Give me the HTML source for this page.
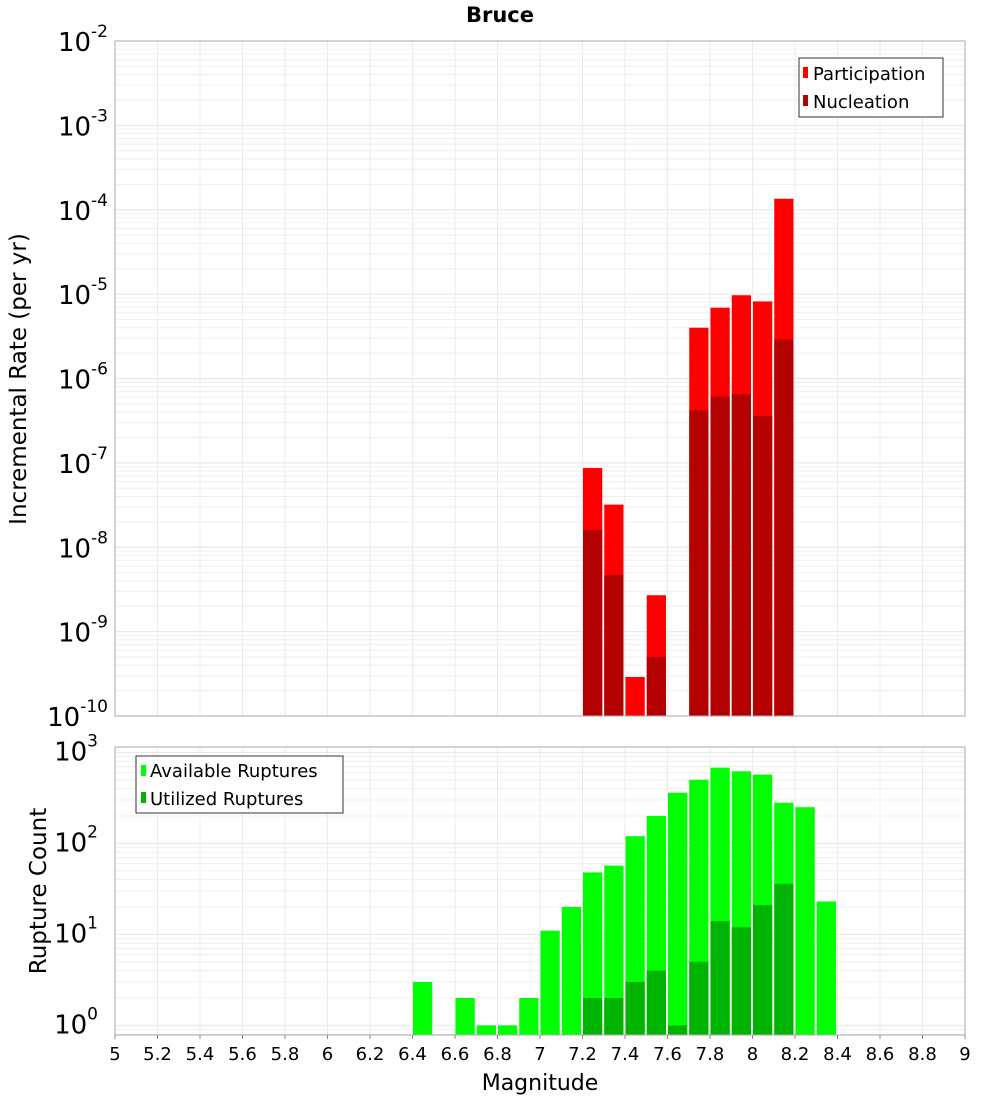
<!DOCTYPE html>
<html><head><meta charset="utf-8"><style>
body{margin:0;background:#fff;}
svg{display:block;font-family:"DejaVu Sans","Liberation Sans",sans-serif;}
</style></head><body>
<svg id="chart" width="1000" height="1100" xmlns="http://www.w3.org/2000/svg">
<text x="500" y="22" text-anchor="middle" font-size="21" font-weight="bold">Bruce</text>
<g id="top"></g>
<g id="bot"></g>
<text transform="translate(26,379) rotate(-90)" text-anchor="middle" font-size="23">Incremental Rate (per yr)</text>
<text transform="translate(46,891) rotate(-90)" text-anchor="middle" font-size="23">Rupture Count</text>
<text x="540" y="1090" text-anchor="middle" font-size="22">Magnitude</text>
<g>
<rect x="799" y="58" width="144" height="59" fill="#fff" stroke="#333" stroke-width="1"/>
<rect x="803" y="67" width="5" height="11" fill="#ff0000"/>
<text x="813" y="80" font-size="18">Participation</text>
<rect x="803" y="95" width="5" height="11" fill="#b30000"/>
<text x="813" y="108" font-size="18">Nucleation</text>
</g>
<g>
<rect x="136" y="756" width="207" height="57" fill="#fff" stroke="#333" stroke-width="1"/>
<rect x="141" y="765" width="5" height="11" fill="#00ff00"/>
<text x="150" y="777" font-size="18">Available Ruptures</text>
<rect x="141" y="792" width="5" height="11" fill="#00b300"/>
<text x="150" y="805" font-size="18">Utilized Ruptures</text>
</g>
</svg>
<script>
const topMags = [7.25,7.35,7.45,7.55,7.75,7.85,7.95,8.05,8.15];
const participation = [8.7e-8,3.2e-8,2.9e-10,2.7e-9,4.0e-6,6.9e-6,9.7e-6,8.2e-6,1.35e-4];
const nucleation = [1.6e-8,4.7e-9,0,5.0e-10,4.2e-7,6.1e-7,6.5e-7,3.6e-7,2.9e-6];
const botMags = [6.45,6.65,6.75,6.85,6.95,7.05,7.15,7.25,7.35,7.45,7.55,7.65,7.75,7.85,7.95,8.05,8.15,8.25,8.35];
const available = [3,2,1,1,2,11,20,48,57,120,200,360,500,680,620,570,280,250,23];
const utilizedMags = [7.25,7.35,7.45,7.55,7.65,7.75,7.85,7.95,8.05,8.15];
const utilized = [2,2,3,4,1,5,14,12,21,36];
const xTicks = [5,5.2,5.4,5.6,5.8,6,6.2,6.4,6.6,6.8,7,7.2,7.4,7.6,7.8,8,8.2,8.4,8.6,8.8,9];
const topDecades = [-2,-3,-4,-5,-6,-7,-8,-9,-10];
const botDecades = [3,2,1,0];

const NS="http://www.w3.org/2000/svg";
const X0=115,X1=965;
function xs(m){return X0+(m-5)/4*(X1-X0);}
const T={top:41,bot:716,lmax:-2,lmin:-10};
function yTop(v){return T.top+(T.lmax-Math.log10(v))/(T.lmax-T.lmin)*(T.bot-T.top);}
const B={top:747,bot:1035,y1:1025.4,pd:91};
function yBot(v){return B.y1-Math.log10(v)*B.pd;}
function el(p,tag,a){const e=document.createElementNS(NS,tag);for(const k in a)e.setAttribute(k,a[k]);p.appendChild(e);return e;}

function grid(g,top,bot,yf,lo,hi){
  el(g,'rect',{x:X0,y:top,width:X1-X0,height:bot-top,fill:'#fff'});
  for(let d=lo;d<hi;d++)for(let k=1;k<10;k++){const y=yf(k*Math.pow(10,d));if(y>=top&&y<=bot)el(g,'line',{x1:X0,x2:X1,y1:y,y2:y,stroke:k==1?'#e4e4e4':'#efefef','stroke-width':1});}
  xTicks.forEach(t=>el(g,'line',{x1:xs(t),x2:xs(t),y1:top,y2:bot,stroke:'#ebebeb','stroke-width':1}));
}
function bar(g,m,v,y0f,base,fill,name){
  if(!(v>0))return;
  const y=y0f(v);
  const r=el(g,'rect',{x:xs(m-0.05)+0.5,y:y,width:xs(m+0.05)-xs(m-0.05)-2,height:Math.max(0,base-y),fill:fill});
  
  
}
const gt=document.getElementById('top');
grid(gt,T.top,T.bot,yTop,-10,-2);
topMags.forEach((m,i)=>bar(gt,m,participation[i],yTop,T.bot,'#ff0000','participation-bar'));
topMags.forEach((m,i)=>bar(gt,m,nucleation[i],yTop,T.bot,'#b30000','nucleation-bar'));
el(gt,'rect',{x:X0,y:T.top,width:X1-X0,height:T.bot-T.top,fill:'none',stroke:'#aaa'});
topDecades.forEach(d=>{const y=yTop(Math.pow(10,d));
  const t=el(gt,'text',{x:108,y:y+10,'text-anchor':'end','font-size':26});
  
  t.textContent='10';const s=el(t,'tspan',{dy:-14,'font-size':17});s.textContent=String(d);});

const gb=document.getElementById('bot');
grid(gb,B.top,B.bot,yBot,-1,4);
botMags.forEach((m,i)=>bar(gb,m,available[i],yBot,B.bot,'#00ff00','available-bar'));
utilizedMags.forEach((m,i)=>bar(gb,m,utilized[i],yBot,B.bot,'#00b300','utilized-bar'));
el(gb,'rect',{x:X0,y:B.top,width:X1-X0,height:B.bot-B.top,fill:'none',stroke:'#aaa'});
botDecades.forEach(d=>{const y=yBot(Math.pow(10,d));
  const t=el(gb,'text',{x:98,y:y+8,'text-anchor':'end','font-size':26});
  
  t.textContent='10';const s=el(t,'tspan',{dy:-14,'font-size':17});s.textContent=String(d);});
xTicks.forEach(v=>{
  el(gb,'line',{x1:xs(v),x2:xs(v),y1:B.bot,y2:B.bot+4,stroke:'#888'});
  const t=el(gb,'text',{x:xs(v),y:1060,'text-anchor':'middle','font-size':18});
  
  t.textContent=String(v);});
</script>
</body></html>
